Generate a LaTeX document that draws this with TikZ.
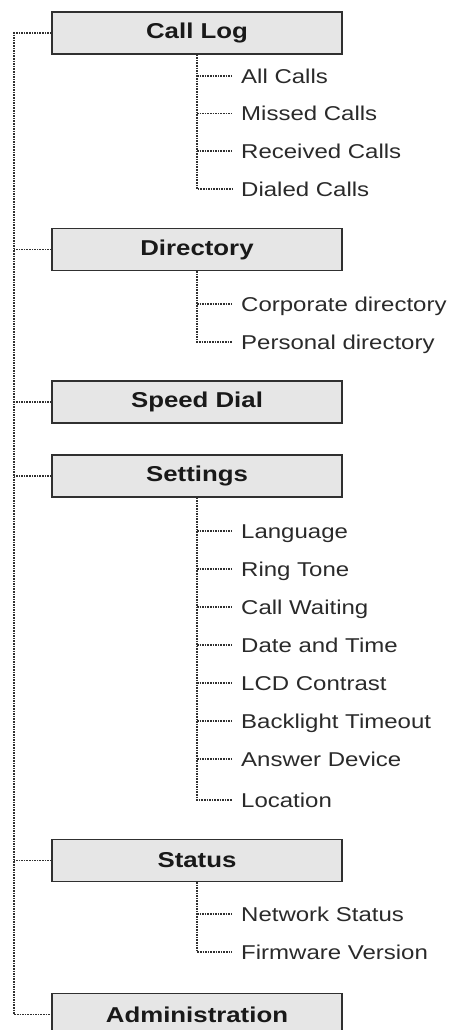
\documentclass[tikz,border=0pt]{standalone}
\usepackage{fontspec}
\newfontfamily\lab[FakeStretch=1.2]{Liberation Sans}
\definecolor{boxfill}{HTML}{E6E6E6}
\definecolor{boxline}{HTML}{303030}
\definecolor{txt}{HTML}{2A2A2A}
\definecolor{conncol}{HTML}{303030}
\tikzset{
  menubox/.style={draw=boxline, line width=1.3pt, fill=boxfill, minimum width=290pt, minimum height=42pt, inner sep=0pt, font=\lab\bfseries\fontsize{21.5}{24}\selectfont, text=black!90},
  leaf/.style={anchor=west, inner xsep=9pt, inner ysep=0pt, text height=14.3pt, text depth=0pt, font=\lab\fontsize{20}{23}\selectfont, text=txt},
  conn/.style={draw=conncol, line width=1.3pt, dash pattern=on 1.6pt off 1pt}
}
\begin{document}
\begin{tikzpicture}[x=1pt,y=1pt]
\useasboundingbox (0,0) rectangle (448,-1030);
% boxes
\node[menubox] (cl) at (197,-33) {Call Log};
\node[menubox] (dir) at (197,-249.5) {Directory};
\node[menubox] (sd) at (197,-402) {Speed Dial};
\node[menubox] (set) at (197,-476) {Settings};
\node[menubox] (st) at (197,-860.5) {Status};
\node[menubox] (adm) at (197,-1014.5) {Administration};
% leaves
\node[leaf] (c1) at (232,-76) {All Calls};
\node[leaf] (c2) at (232,-113.5) {Missed Calls};
\node[leaf] (c3) at (232,-151) {Received Calls};
\node[leaf] (c4) at (232,-189) {Dialed Calls};
\node[leaf] (d1) at (232,-304) {Corporate directory};
\node[leaf] (d2) at (232,-342) {Personal directory};
\node[leaf] (s1) at (232,-531) {Language};
\node[leaf] (s2) at (232,-569) {Ring Tone};
\node[leaf] (s3) at (232,-607) {Call Waiting};
\node[leaf] (s4) at (232,-645) {Date and Time};
\node[leaf] (s5) at (232,-683) {LCD Contrast};
\node[leaf] (s6) at (232,-721) {Backlight Timeout};
\node[leaf] (s7) at (232,-759) {Answer Device};
\node[leaf] (s8) at (232,-800) {Location};
\node[leaf] (n1) at (232,-914) {Network Status};
\node[leaf] (n2) at (232,-952) {Firmware Version};
% main trunk
\coordinate (trunk) at (14,-33);
\draw[conn] (cl.west) -- (trunk) |- (adm.west);
\foreach \b in {dir,sd,set,st}{
  \draw[conn] (\b.west) -- (\b.west -| trunk);
}
% sub trunks
\draw[conn] (cl.south) |- (c4.west);
\foreach \c in {c1,c2,c3}{\draw[conn] (cl.south |- \c.west) -- (\c.west);}
\draw[conn] (dir.south) |- (d2.west);
\draw[conn] (dir.south |- d1.west) -- (d1.west);
\draw[conn] (set.south) |- (s8.west);
\foreach \c in {s1,s2,s3,s4,s5,s6,s7}{\draw[conn] (set.south |- \c.west) -- (\c.west);}
\draw[conn] (st.south) |- (n2.west);
\draw[conn] (st.south |- n1.west) -- (n1.west);
\end{tikzpicture}
\end{document}
